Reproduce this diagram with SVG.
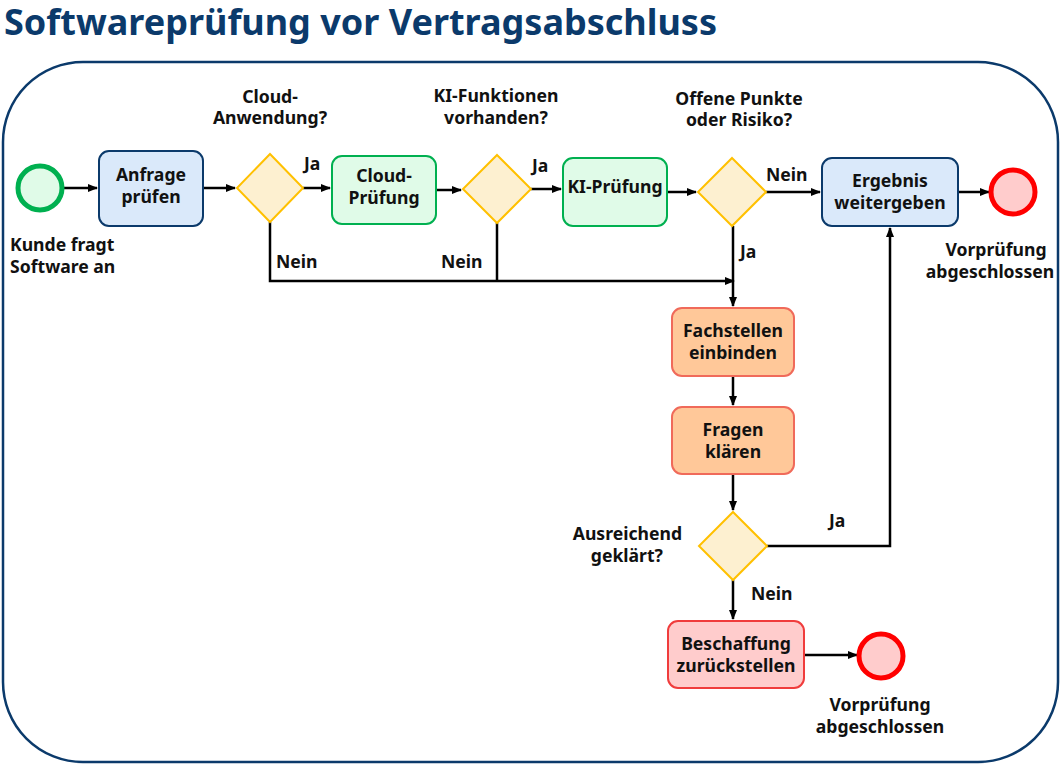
<svg xmlns="http://www.w3.org/2000/svg" width="1063" height="765" viewBox="0 0 1063 765">
<defs>
<marker id="ar" markerWidth="10" markerHeight="8" refX="9" refY="4" orient="auto" markerUnits="userSpaceOnUse"><path d="M0,0 L10,4 L0,8 z" fill="#000"/></marker>
<style>
text{font-family:"Noto Sans","Open Sans",sans-serif;font-weight:bold;font-size:17.6px;fill:#111}
.c{text-anchor:middle}
.blue{fill:#dae9fa;stroke:#0b3a6b;stroke-width:2}
.green{fill:#e0fbe8;stroke:#00b050;stroke-width:2}
.orange{fill:#ffc899;stroke:#f06a5a;stroke-width:2}
.red{fill:#ffcccc;stroke:#f03c3c;stroke-width:2}
.dia{fill:#fdf0d0;stroke:#ffc000;stroke-width:2}
.ln{fill:none;stroke:#000;stroke-width:2.5}
</style>
</defs>
<text x="4" y="35" style="font-size:36px;fill:#0b3a6b">Softwareprüfung vor Vertragsabschluss</text>
<rect x="3" y="62" width="1055" height="700" rx="80" fill="none" stroke="#0b3a6b" stroke-width="2.5"/>
<g id="connectors">
<path class="ln" d="M62,188 H97" marker-end="url(#ar)"/>
<path class="ln" d="M203,188 H235" marker-end="url(#ar)"/>
<path class="ln" d="M303,188 H330" marker-end="url(#ar)"/>
<path class="ln" d="M436,190 H461" marker-end="url(#ar)"/>
<path class="ln" d="M531,189 H561" marker-end="url(#ar)"/>
<path class="ln" d="M667,192 H696" marker-end="url(#ar)"/>
<path class="ln" d="M766,192 H820" marker-end="url(#ar)"/>
<path class="ln" d="M958,192 H989" marker-end="url(#ar)"/>
<path class="ln" d="M270,222 V281 H734" marker-end="url(#ar)"/>
<path class="ln" d="M497,223 V281"/>
<path class="ln" d="M733,226 V306" marker-end="url(#ar)"/>
<path class="ln" d="M733,376 V405" marker-end="url(#ar)"/>
<path class="ln" d="M733,474 V510" marker-end="url(#ar)"/>
<path class="ln" d="M767,546 H890 V228" marker-end="url(#ar)"/>
<path class="ln" d="M733,580 V619" marker-end="url(#ar)"/>
<path class="ln" d="M804,655 H857" marker-end="url(#ar)"/>
<text x="304" y="170">Ja</text>
<text x="532" y="172">Ja</text>
<text x="766" y="181">Nein</text>
<text x="740" y="258">Ja</text>
<text x="276" y="268">Nein</text>
<text x="441" y="268">Nein</text>
<text x="829" y="527">Ja</text>
<text x="751" y="600">Nein</text>
</g>
<g id="start"><circle cx="40" cy="188" r="22" fill="#e0fbe8" stroke="#00b050" stroke-width="5"/><text x="10" y="251">Kunde fragt</text><text x="10" y="273">Software an</text></g>
<g id="anfrage"><rect class="blue" x="99" y="151" width="104" height="75" rx="10"/><text class="c" x="151" y="181">Anfrage</text><text class="c" x="151" y="203">prüfen</text></g>
<g id="d1"><path class="dia" d="M270,154 L303,188 L270,222 L237,188 z"/><text class="c" x="270" y="103">Cloud-</text><text class="c" x="270" y="124">Anwendung?</text></g>
<g id="cloud"><rect class="green" x="332" y="156" width="104" height="68" rx="10"/><text class="c" x="384" y="182">Cloud-</text><text class="c" x="384" y="204">Prüfung</text></g>
<g id="d2"><path class="dia" d="M497,155 L531,189 L497,223 L463,189 z"/><text class="c" x="496" y="102">KI-Funktionen</text><text class="c" x="496" y="124">vorhanden?</text></g>
<g id="ki"><rect class="green" x="563" y="158" width="104" height="68" rx="10"/><text class="c" x="615" y="193">KI-Prüfung</text></g>
<g id="d3"><path class="dia" d="M732,158 L766,192 L732,226 L698,192 z"/><text class="c" x="739" y="105">Offene Punkte</text><text class="c" x="739" y="126">oder Risiko?</text></g>
<g id="ergebnis"><rect class="blue" x="822" y="158" width="136" height="68" rx="10"/><text class="c" x="890" y="187">Ergebnis</text><text class="c" x="890" y="209">weitergeben</text></g>
<g id="end1"><circle cx="1013" cy="192" r="22" fill="#ffcccc" stroke="#ff0000" stroke-width="5"/><text class="c" x="996" y="256">Vorprüfung</text><text class="c" x="990" y="278">abgeschlossen</text></g>
<g id="fach"><rect class="orange" x="672" y="308" width="122" height="68" rx="10"/><text class="c" x="733" y="337">Fachstellen</text><text class="c" x="733" y="359">einbinden</text></g>
<g id="fragen"><rect class="orange" x="672" y="407" width="122" height="67" rx="10"/><text class="c" x="733" y="436">Fragen</text><text class="c" x="733" y="458">klären</text></g>
<g id="d4"><path class="dia" d="M733,512 L767,546 L733,580 L699,546 z"/><text x="682" y="540" text-anchor="end">Ausreichend</text><text x="663" y="562" text-anchor="end">geklärt?</text></g>
<g id="beschaffung"><rect class="red" x="668" y="621" width="136" height="67" rx="10"/><text class="c" x="736" y="650">Beschaffung</text><text class="c" x="736" y="672">zurückstellen</text></g>
<g id="end2"><circle cx="881" cy="656" r="22" fill="#ffcccc" stroke="#ff0000" stroke-width="5"/><text class="c" x="880" y="711">Vorprüfung</text><text class="c" x="880" y="733">abgeschlossen</text></g>
</svg>
